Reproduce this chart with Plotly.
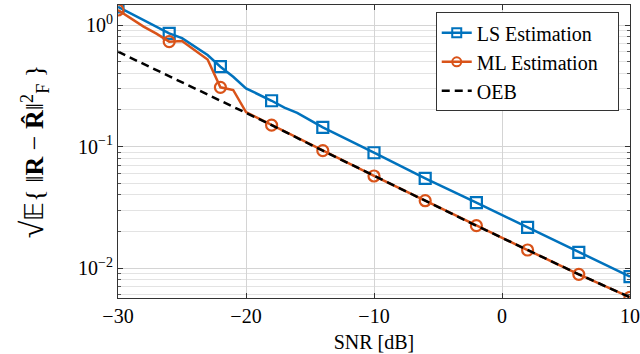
import plotly.graph_objects as go

# ---- data ----
ls_snr = [-30, -29, -28, -27, -26, -25, -24, -23, -22, -21, -20, -19, -18, -17, -16, -15, -14,
          -10, -6, -2, 2, 6, 10]
ls_err = [1.41, 1.24, 1.10, 0.97, 0.855, 0.78, 0.67, 0.567, 0.454, 0.375, 0.301, 0.268, 0.238,
          0.209, 0.189, 0.165, 0.144, 0.0889, 0.0547, 0.0345, 0.0216, 0.01346, 0.00849]

ml_snr = [-30, -29, -28, -27, -26, -25, -24, -23, -22, -21, -20, -19, -18,
          -14, -10, -6, -2, 2, 6, 10]
ml_err = [1.33, 1.14, 0.97, 0.85, 0.73, 0.74, 0.62, 0.52, 0.307, 0.292, 0.192, 0.17, 0.150,
          0.0924, 0.0572, 0.0358, 0.0223, 0.01406, 0.00887, 0.00574]

marker_snr = [-30, -26, -22, -18, -14, -10, -6, -2, 2, 6, 10]

oeb_snr = [-30, -26, -22, -18, -14, -10, -6, -2, 2, 6, 10]
oeb_err = [0.603, 0.380, 0.240, 0.150, 0.0924, 0.0572, 0.0358, 0.0223, 0.01406, 0.00887, 0.00574]

x_ticks = [-30, -20, -10, 0, 10]
x_ticklabels = ["\u221230", "\u221220", "\u221210", "0", "10"]
y_ticks = [1, 0.1, 0.01]
y_ticklabels = ["10<sup>0</sup>", "10<sup>\u22121</sup>", "10<sup>\u22122</sup>"]

names = ["LS Estimation", "ML Estimation", "OEB"]
BLUE = "#0072BD"
ORANGE = "#D95319"
FONT = "Liberation Serif"
PAD = "\u00a0\u00a0\u00a0"

fig = go.Figure()


def marker_subset(xs, ys):
    d = dict(zip(xs, ys))
    mx = [x for x in marker_snr if x in d]
    return mx, [d[x] for x in mx]


for xs, ys, color, sym, name in [
    (ls_snr, ls_err, BLUE, "square-open", names[0]),
    (ml_snr, ml_err, ORANGE, "circle-open", names[1]),
]:
    fig.add_trace(go.Scatter(x=xs, y=ys, mode="lines", line=dict(color=color, width=2.5),
                             showlegend=False, legendgroup=name, hoverinfo="skip"))
    mx, my = marker_subset(xs, ys)
    fig.add_trace(go.Scatter(x=mx, y=my, mode="markers",
                             marker=dict(symbol=sym, size=11, color=color,
                                         line=dict(color=color, width=2.2)),
                             showlegend=False, legendgroup=name))
    fig.add_trace(go.Scatter(x=[None], y=[None], mode="lines+markers", name=name + PAD,
                             legendgroup=name,
                             line=dict(color=color, width=2.5),
                             marker=dict(symbol=sym, size=9, color=color,
                                         line=dict(color=color, width=2))))

fig.add_trace(go.Scatter(x=oeb_snr, y=oeb_err, mode="lines", name=names[2] + PAD,
                         line=dict(color="black", width=2.5, dash="8px,5px")))

minor_vals = []
for dec in [0.001, 0.01, 0.1, 1]:
    for k in range(2, 10):
        minor_vals.append(round(k * dec, 6))

fig.update_layout(
    width=640, height=354,
    margin=dict(l=118, r=10, t=5, b=56),
    paper_bgcolor="white", plot_bgcolor="white",
    font=dict(family=FONT, size=20, color="black"),
    legend=dict(x=0.978, xanchor="right", y=0.975, yanchor="top",
                bgcolor="white", bordercolor="#333333", borderwidth=1,
                font=dict(family=FONT, size=20), tracegroupgap=0),
)

fig.update_xaxes(
    range=[-30, 10], tickmode="array", tickvals=x_ticks, ticktext=x_ticklabels,
    showgrid=True, gridcolor="#d4d4d4", gridwidth=1, zeroline=False,
    showline=True, linecolor="#333333", linewidth=1, mirror="ticks",
    ticks="inside", ticklen=5, tickcolor="#333333",
    tickfont=dict(family=FONT, size=20), automargin=False,
    title=dict(text="SNR [dB]", font=dict(family=FONT, size=20), standoff=8),
)

fig.update_yaxes(
    type="log", range=[-2.247, 0.165], tickmode="array", tickvals=y_ticks, ticktext=y_ticklabels,
    showgrid=True, gridcolor="#d4d4d4", gridwidth=1, zeroline=False,
    showline=True, linecolor="#333333", linewidth=1, mirror="allticks",
    ticks="inside", ticklen=5, tickcolor="#333333",
    tickfont=dict(family=FONT, size=20), automargin=False,
    minor=dict(tickmode="array", tickvals=minor_vals, showgrid=True, gridcolor="#e3e3e3",
               ticks="inside", ticklen=3, tickcolor="#555555"),
    title=dict(text="<span style='font-size:32px'>\u221a</span>\U0001D53C{ \u2016<b>R</b> \u2212 <b>R\u0302</b>\u2016<sup>2</sup><sub>F</sub> }",
               font=dict(family=FONT, size=26), standoff=26),
)

fig.write_html("out.html", config={"displayModeBar": False},
               post_script="document.body.style.margin='0';")
